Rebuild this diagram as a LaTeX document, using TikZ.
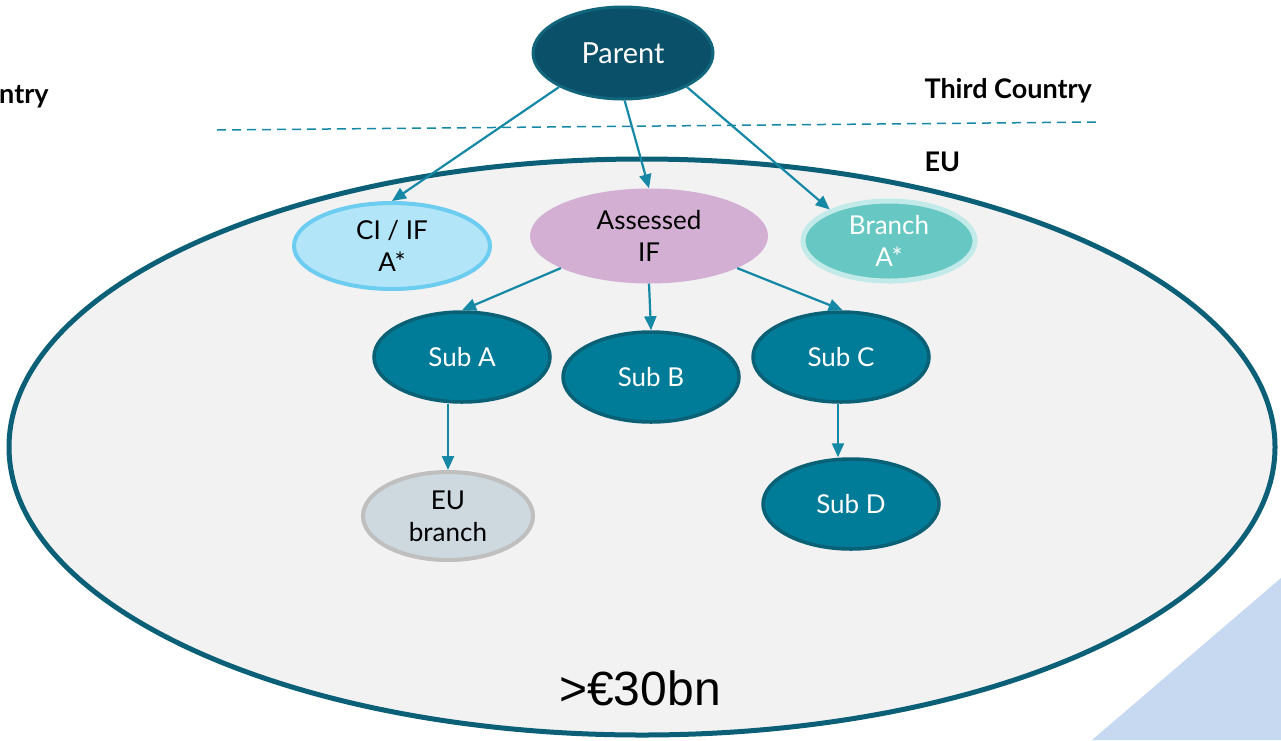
\documentclass[tikz,border=0pt]{standalone}
\usepackage{fontspec}
\setmainfont{Lato}
\newfontfamily\figfont{Liberation Sans}
\usetikzlibrary{shapes.geometric,arrows.meta,calc}

\definecolor{regionfill}{HTML}{F2F2F2}
\definecolor{regionline}{HTML}{0B6077}
\definecolor{linkcol}{HTML}{1588A6}
\definecolor{parentfill}{HTML}{0A5069}
\definecolor{parentline}{HTML}{11667C}
\definecolor{subfill}{HTML}{007B98}
\definecolor{subline}{HTML}{0A6075}
\definecolor{assessfill}{HTML}{D3AFD3}
\definecolor{cifill}{HTML}{B3E5F8}
\definecolor{ciline}{HTML}{6DCDF0}
\definecolor{brfill}{HTML}{66C7C3}
\definecolor{brline}{HTML}{C2EAE8}
\definecolor{eubfill}{HTML}{CDD8DF}
\definecolor{eubline}{HTML}{BFBFBF}
\definecolor{cornerblue}{HTML}{C6D9F0}

\tikzset{
  blob/.style={ellipse, inner sep=0pt, align=center,
    font=\fontsize{26}{32}\selectfont},
  subblob/.style={blob, fill=subfill, draw=subline, line width=3.5pt,
    text=white, minimum width=176pt, minimum height=90pt},
  link/.style={draw=linkcol, line width=2.2pt,
    -{Triangle[length=14pt,width=12pt]}},
  sidelabel/.style={font=\bfseries\fontsize{27}{31}\selectfont, anchor=west},
}

\begin{document}
\begin{tikzpicture}[x=1pt, y=-1pt]
\useasboundingbox (0,0) rectangle (1281,740);

% corner band
\fill[cornerblue] (1092,740) -- (1281,740) -- (1281,578) -- cycle;

% EU perimeter
\node[ellipse, fill=regionfill, draw=regionline, line width=5pt,
  minimum width=1266pt, minimum height=576pt, inner sep=0pt]
  (region) at (642,447) {};

% jurisdiction boundary
\draw[draw=linkcol, line width=1.5pt, dash pattern=on 9pt off 6pt]
  (217,130) -- (1098,122);

\node[sidelabel] (tc) at (921,91) {Third Country};
\node[sidelabel] (eu) at (921,162) {EU};
\node[sidelabel, inner sep=0pt] (tcl) at (-1,97) {ntry};

% entities
\node[blob, fill=parentfill, draw=parentline, line width=3pt, text=white,
  minimum width=180pt, minimum height=92pt,
  font=\fontsize{29}{33}\selectfont] (parent) at (623,53) {Parent};

\node[blob, fill=assessfill, minimum width=238pt, minimum height=95pt]
  (assessed) at (649,236) {Assessed\\IF};

\node[blob, fill=cifill, draw=ciline, line width=4pt,
  minimum width=196pt, minimum height=86pt] (ci) at (392,246) {CI / IF\\A*};

\node[blob, fill=brfill, draw=brline, line width=5pt, text=white,
  minimum width=172pt, minimum height=80pt] (branch) at (889,241) {Branch\\A*};

\node[subblob] (suba) at (462,357) {Sub A};
\node[subblob] (subb) at (651,377) {Sub B};
\node[subblob] (subc) at (841,357) {Sub C};
\node[subblob] (subd) at (851,504) {Sub D};

\node[blob, fill=eubfill, draw=eubline, line width=4pt,
  minimum width=170pt, minimum height=88pt] (eub) at (448,516) {EU\\branch};

\node[font=\figfont\fontsize{48}{52}\selectfont] (size) at (640,688) {>€30bn};

% ownership links
\draw[link] (parent.208) -- (ci.north);
\draw[link] (parent.272) -- (assessed.north);
\draw[link] (parent.332) -- (branch.152);
\draw[link] (assessed.200) -- (suba.north);
\draw[link] (assessed.south) -- (subb.north);
\draw[link] (assessed.340) -- (subc.88);
\draw[link] (suba.south -| eub.north) -- (eub.north);
\draw[link] (subc.south -| 838,0) -- (subd.north -| 838,0);
\end{tikzpicture}
\end{document}
